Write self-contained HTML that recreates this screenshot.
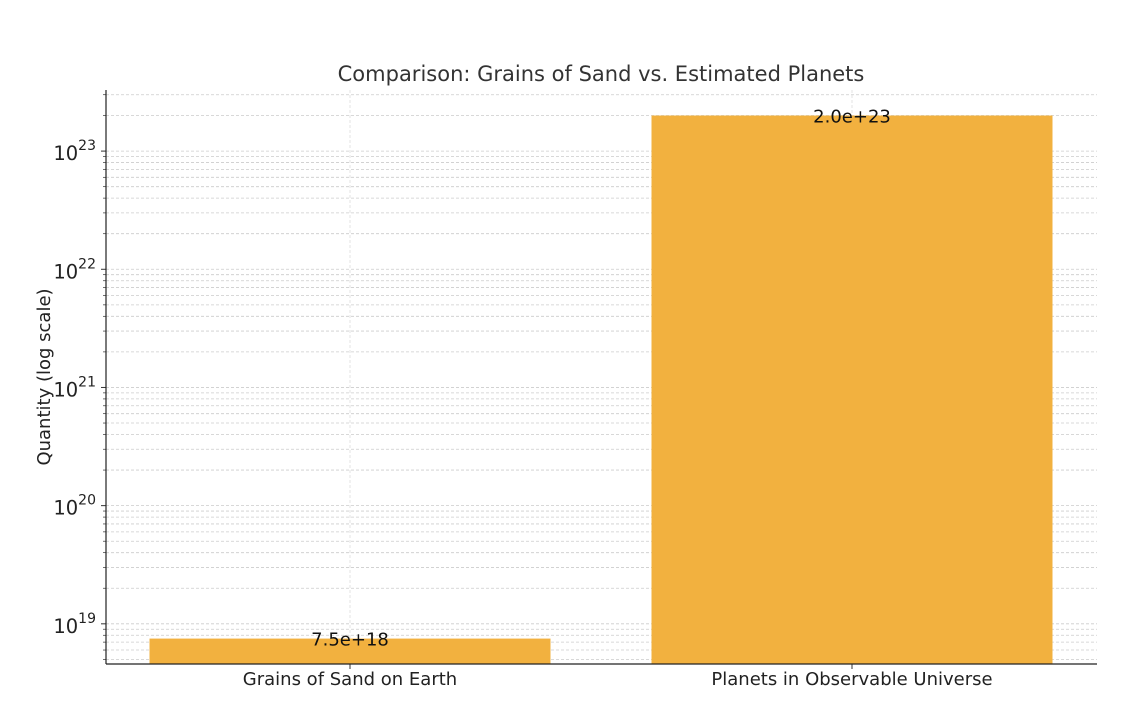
<!DOCTYPE html>
<html><head><meta charset="utf-8"><style>
body{margin:0;background:#fff;}
svg text{font-family:"DejaVu Sans","Liberation Sans",sans-serif;}
</style></head><body>
<svg id="chart" width="1122" height="702" xmlns="http://www.w3.org/2000/svg">
<rect width="1122" height="702" fill="#fff"/>
<text x="601" y="81" text-anchor="middle" font-size="21" fill="#333">Comparison: Grains of Sand vs. Estimated Planets</text>
<text transform="translate(50,377) rotate(-90)" text-anchor="middle" font-size="18" fill="#222">Quantity (log scale)</text>
<g id="grid"></g><g id="bars"></g><g id="axes"></g>
</svg>
<script>
const categories = ["Grains of Sand on Earth", "Planets in Observable Universe"];
const values = [7.5e18, 2.0e23];
const valueLabels = ["7.5e+18", "2.0e+23"];
const majorExponents = [19, 20, 21, 22, 23];

const NS = "http://www.w3.org/2000/svg";
const L = 106, R = 1097, T = 90, B = 664;
const yTopLog = 23.517, yBotLog = 18.66;
function y(v){ return T + (yTopLog - Math.log10(v)) / (yTopLog - yBotLog) * (B - T); }
function xc(i){ return 350 + i * 502; }
const bw = 401;
function mk(tag, attrs, parent){ const e = document.createElementNS(NS, tag); for (const k in attrs) e.setAttribute(k, attrs[k]); parent.appendChild(e); return e; }
const grid = document.getElementById('grid'), bars = document.getElementById('bars'), axes = document.getElementById('axes');

for (let e = 18; e <= 23; e++) {
  for (let m = 1; m <= 9; m++) {
    const v = m * Math.pow(10, e);
    const lv = Math.log10(v);
    if (lv < yBotLog || lv > yTopLog) continue;
    const yy = y(v);
    const g = mk('line', {x1: L, x2: R, y1: yy, y2: yy, stroke: '#ccc', 'stroke-width': 0.8, 'stroke-dasharray': '3,2'}, grid);
    
    
    const t = mk('line', {x1: L - (m === 1 ? 5 : 3), x2: L, y1: yy, y2: yy, stroke: '#333', 'stroke-width': m === 1 ? 1 : 0.7}, axes);
    
    
  }
}
categories.forEach((c, i) => {
  const g = mk('line', {x1: xc(i), x2: xc(i), y1: T, y2: B, stroke: '#ddd', 'stroke-width': 0.8, 'stroke-dasharray': '3,2'}, grid);
  
  
});
majorExponents.forEach(e => {
  const yy = y(Math.pow(10, e));
  const t = mk('text', {x: 96, y: yy + 9, 'text-anchor': 'end', 'font-size': 19.5, fill: '#222'}, axes);
  
  
  t.innerHTML = '10<tspan dy="-10" font-size="14">' + e + '</tspan>';
});
categories.forEach((c, i) => {
  const top = y(values[i]);
  const r = mk('rect', {x: xc(i) - bw / 2, y: top, width: bw, height: B - top, fill: '#f2b13f'}, bars);
  
  
  const vl = mk('text', {x: xc(i), y: top + 7, 'text-anchor': 'middle', 'font-size': 18, fill: '#111'}, bars);
  
  
  vl.textContent = valueLabels[i];
  const tk = mk('line', {x1: xc(i), x2: xc(i), y1: B, y2: B + 5, stroke: '#333'}, axes);
  
  
  const xl = mk('text', {x: xc(i), y: 685, 'text-anchor': 'middle', 'font-size': 18, fill: '#222'}, axes);
  
  
  xl.textContent = c;
});
const ya = mk('line', {x1: L, x2: L, y1: T, y2: B, stroke: '#222', 'stroke-width': 1.2}, axes);


const xa = mk('line', {x1: L, x2: R, y1: B, y2: B, stroke: '#222', 'stroke-width': 1.2}, axes);


</script>
</body></html>
